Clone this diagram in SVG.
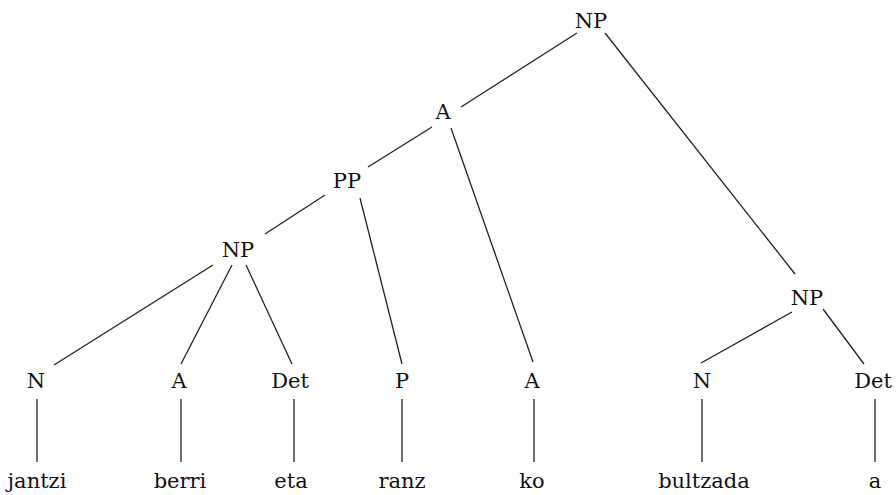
<svg xmlns="http://www.w3.org/2000/svg" width="896" height="495" viewBox="0 0 896 495">
<style>
.t{font-family:'DejaVu Serif','Liberation Serif',serif;font-size:21px;fill:#111;text-anchor:middle}
line{stroke:#222;stroke-width:1.3;fill:none}
</style>
<rect width="896" height="495" fill="#fff"/>
<g id="connectors">
<line x1="577" y1="33" x2="461" y2="107"/>
<line x1="605" y1="33" x2="795" y2="274"/>
<line x1="432" y1="127" x2="368" y2="167"/>
<line x1="451" y1="128" x2="533" y2="362"/>
<line x1="325" y1="195" x2="265" y2="234"/>
<line x1="360" y1="198" x2="402" y2="364"/>
<line x1="213" y1="265" x2="54" y2="365"/>
<line x1="232" y1="265" x2="181" y2="364"/>
<line x1="246" y1="265" x2="292" y2="364"/>
<line x1="792" y1="312" x2="701" y2="363"/>
<line x1="823" y1="309" x2="864" y2="364"/>
<line x1="37" y1="399" x2="37" y2="462"/>
<line x1="181" y1="399" x2="181" y2="462"/>
<line x1="294" y1="399" x2="294" y2="462"/>
<line x1="402" y1="399" x2="402" y2="462"/>
<line x1="534" y1="399" x2="534" y2="462"/>
<line x1="702" y1="399" x2="702" y2="462"/>
<line x1="875" y1="399" x2="875" y2="462"/>
</g>
<g id="np-root"><text class="t" x="591" y="28">NP</text></g>
<g id="a-mid"><text class="t" x="443" y="119">A</text></g>
<g id="pp"><text class="t" x="347" y="188">PP</text></g>
<g id="np-left"><text class="t" x="238" y="257">NP</text></g>
<g id="np-right"><text class="t" x="807" y="305">NP</text></g>
<g id="n1"><text class="t" x="36" y="388">N</text></g>
<g id="a1"><text class="t" x="179" y="388">A</text></g>
<g id="det1"><text class="t" x="290" y="388">Det</text></g>
<g id="p1"><text class="t" x="402" y="388">P</text></g>
<g id="a2"><text class="t" x="532" y="388">A</text></g>
<g id="n2"><text class="t" x="702" y="388">N</text></g>
<g id="det2"><text class="t" x="873" y="388">Det</text></g>
<g id="w-jantzi"><text class="t" x="37" y="488">jantzi</text></g>
<g id="w-berri"><text class="t" x="180" y="488">berri</text></g>
<g id="w-eta"><text class="t" x="291" y="488">eta</text></g>
<g id="w-ranz"><text class="t" x="402" y="488">ranz</text></g>
<g id="w-ko"><text class="t" x="532" y="488">ko</text></g>
<g id="w-bultzada"><text class="t" x="704" y="488">bultzada</text></g>
<g id="w-a"><text class="t" x="875" y="488">a</text></g>
</svg>
